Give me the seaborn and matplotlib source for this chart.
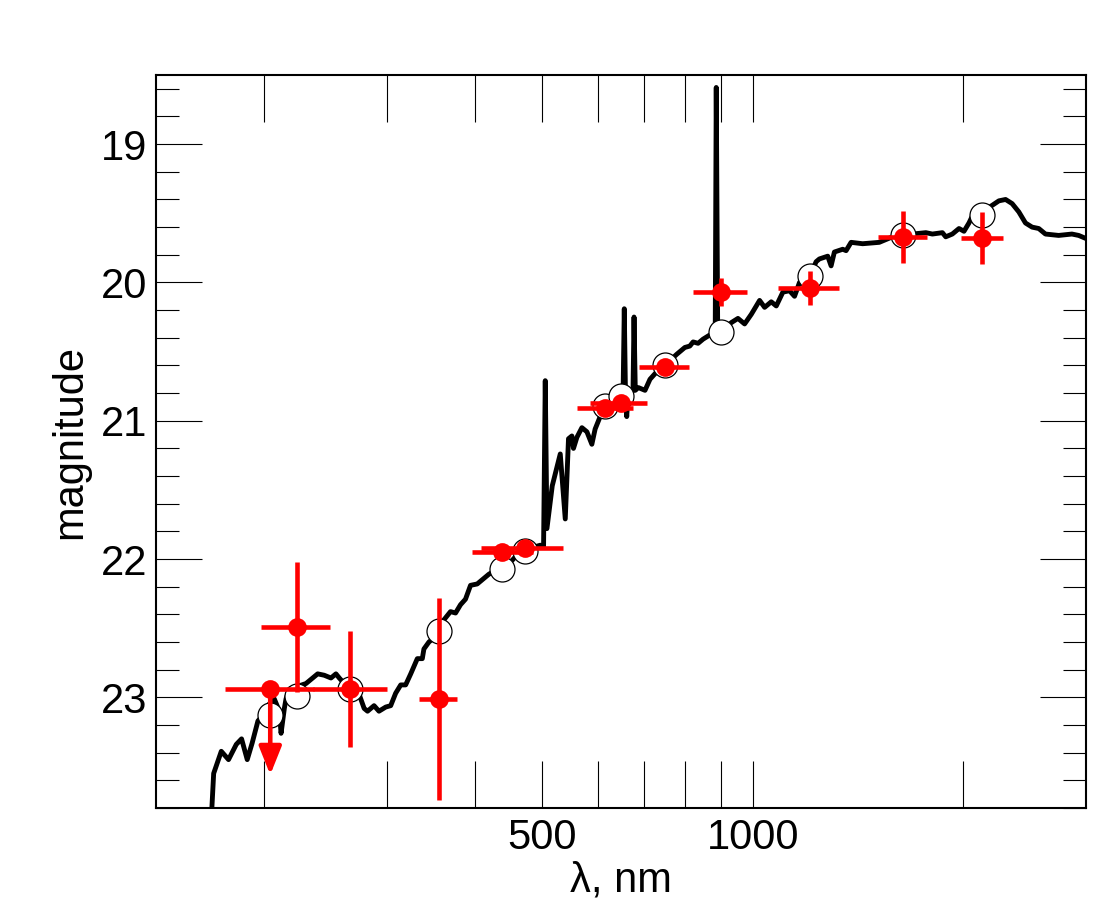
import numpy as np
import pandas as pd
import matplotlib
matplotlib.use("Agg")
import matplotlib.pyplot as plt
import seaborn as sns

# --- data: model spectrum (nm, mag) ---
spec_wave = [167.5, 169.3, 173.6, 177.8, 182.4, 185.6, 189.1, 192.2, 195.9, 200.1,
             203.2, 206.7, 210.2, 211.4, 213.7, 214.9, 217.3, 229.5, 232.0, 235.8,
             238.5, 243.7, 249.2, 253.3, 256.1, 260.3, 273.5, 278.0, 281.1, 287.2,
             291.9, 298.5, 303.4, 308.4, 313.6, 318.7, 324.1, 331.2, 336.7, 338.5,
             344.1, 349.8, 361.5, 369.5, 375.7, 381.9, 388.2, 394.7, 403.5, 419.2,
             452.6, 460.1, 480.7, 496.7, 502.1, 504.9, 507.7, 516.7, 530.5, 539.3,
             545.1, 551.2, 554.1, 560.4, 569.7, 579.2, 588.7, 595.1, 605.0, 618.5,
             632.0, 646.0, 652.4, 655.1, 657.8, 660.4, 663.2, 674.2, 676.5, 679.3,
             686.1, 701.4, 713.0, 724.8, 749.0, 778.4, 791.2, 799.8, 813.0, 821.9,
             835.5, 849.3, 868.2, 884.0, 887.0, 891.3, 902.3, 932.4, 952.8, 973.9,
             995.7, 1023.2, 1040.3, 1063.3, 1081.0, 1104.8, 1129.3, 1148.1, 1167.0, 1208.8,
             1232.7, 1246.2, 1280.8, 1295.1, 1309.2, 1345.6, 1360.6, 1383.3, 1436.9, 1517.8,
             1585.6, 1647.8, 1693.2, 1769.6, 1808.3, 1868.8, 1889.6, 1931.0, 1974.1, 2006.7,
             2039.9, 2062.5, 2131.2, 2190.8, 2251.2, 2301.5, 2351.8, 2404.2, 2457.4, 2511.7,
             2567.3, 2624.6, 2741.4, 2864.0, 2928.0, 3025.0]
spec_mag = [24.00, 23.55, 23.39, 23.45, 23.34, 23.30, 23.45, 23.33, 23.17, 23.12,
            23.05, 23.01, 23.10, 23.26, 23.08, 23.01, 22.94, 22.90, 22.88, 22.85,
            22.83, 22.84, 22.86, 22.83, 22.86, 22.90, 22.98, 23.08, 23.10, 23.06,
            23.10, 23.07, 23.06, 22.97, 22.91, 22.91, 22.83, 22.72, 22.72, 22.65,
            22.60, 22.57, 22.44, 22.38, 22.39, 22.33, 22.29, 22.19, 22.18, 22.11,
            22.01, 21.97, 21.92, 21.90, 21.91, 20.71, 21.78, 21.47, 21.24, 21.71,
            21.13, 21.11, 21.20, 21.12, 21.05, 21.08, 21.17, 21.06, 20.97, 20.90,
            20.85, 20.83, 20.83, 20.19, 20.84, 20.97, 20.81, 20.78, 20.25, 20.78,
            20.76, 20.78, 20.70, 20.66, 20.60, 20.52, 20.49, 20.47, 20.46, 20.43,
            20.44, 20.41, 20.38, 20.37, 18.59, 20.37, 20.35, 20.29, 20.26, 20.30,
            20.23, 20.13, 20.18, 20.14, 20.17, 20.07, 20.06, 20.10, 20.00, 19.95,
            19.85, 19.83, 19.81, 19.88, 19.78, 19.76, 19.77, 19.71, 19.72, 19.71,
            19.67, 19.66, 19.65, 19.64, 19.65, 19.64, 19.67, 19.65, 19.61, 19.63,
            19.57, 19.52, 19.51, 19.45, 19.41, 19.40, 19.43, 19.49, 19.57, 19.60,
            19.61, 19.65, 19.66, 19.65, 19.66, 19.69]

# --- photometry ---
band_wave = [204, 223, 265, 356, 438, 473, 615, 648, 749, 902, 1209, 1639, 2131]
band_lo = [176, 198, 235, 333, 397, 408, 561, 586, 688, 821, 1086, 1513, 1987]
band_hi = [236, 248, 300, 378, 485, 536, 674, 706, 810, 983, 1331, 1777, 2281]
obs_mag = [22.94, 22.49, 22.94, 23.01, 21.95, 21.92, 20.91, 20.87, 20.61, 20.07, 20.04, 19.67, 19.68]
obs_err = [0.0, 0.47, 0.42, 0.73, 0.05, 0.03, 0.03, 0.04, 0.03, 0.10, 0.125, 0.19, 0.19]
model_mag = [23.13, 22.99, 22.94, 22.52, 22.07, 21.94, 20.89, 20.82, 20.60, 20.36, 19.95, 19.66, 19.51]
limit_wave = 204
limit_mag = 22.94
limit_end = 23.56

x_ticks = [200, 300, 400, 500, 600, 700, 800, 900, 1000, 2000]
x_ticklabels = ['', '', '', '500', '', '', '', '', '1000', '']
y_ticks = [19, 20, 21, 22, 23]

sns.set_style("white")
plt.rcParams['font.family'] = ['Liberation Sans', 'DejaVu Sans']
plt.rcParams['text.color'] = 'black'
plt.rcParams['axes.labelcolor'] = 'black'
plt.rcParams['xtick.color'] = 'black'
plt.rcParams['ytick.color'] = 'black'

fig = plt.figure(figsize=(10.94, 9.09), dpi=100)
ax = fig.add_axes([0.1426, 0.1111, 0.8501, 0.8064])

spec = pd.DataFrame({'wave': spec_wave, 'mag': spec_mag})
sns.lineplot(data=spec, x='wave', y='mag', color='black', lw=3.5, sort=False,
             ax=ax, zorder=2)

phot = pd.DataFrame({'wave': band_wave, 'obs': obs_mag, 'model': model_mag})
sns.scatterplot(data=phot, x='wave', y='model', s=18**2, facecolor='white',
                edgecolor='black', linewidth=0.9, ax=ax, zorder=3)

xerr = [np.array(band_wave) - np.array(band_lo), np.array(band_hi) - np.array(band_wave)]
ax.errorbar(band_wave, obs_mag, yerr=obs_err, xerr=xerr, fmt='none',
            ecolor='red', elinewidth=3.3, capsize=0, zorder=4)
sns.scatterplot(data=phot, x='wave', y='obs', s=13.5**2, color='red',
                edgecolor='red', linewidth=0, ax=ax, zorder=5)

# upper limit arrow
ax.annotate('', xy=(limit_wave, limit_end), xytext=(limit_wave, limit_mag),
            arrowprops=dict(arrowstyle='-|>,head_length=0.85,head_width=0.34',
                            color='red', lw=3.3, shrinkA=0, shrinkB=0,
                            mutation_scale=20), zorder=4)

ax.set_xscale('log')
ax.set_xlim(140, 3000)
ax.set_ylim(23.8, 18.5)

ax.set_xticks(x_ticks)
ax.set_xticklabels(x_ticklabels)
ax.xaxis.set_minor_locator(matplotlib.ticker.NullLocator())
ax.set_yticks(y_ticks)
ax.set_yticks(np.arange(18.6, 23.81, 0.2), minor=True)

ax.tick_params(axis='both', which='both', direction='in', top=True, right=True,
               bottom=True, left=True, color='black', width=0.8, labelsize=30,
               labelcolor='black')
ax.tick_params(axis='x', which='major', length=33.5, pad=7)
ax.tick_params(axis='y', which='major', length=33, pad=6)
ax.tick_params(axis='y', which='minor', length=16.5)

for sp in ax.spines.values():
    sp.set_linewidth(1.5)
    sp.set_color('black')

ax.set_xlabel('λ, nm', fontsize=30, labelpad=2, color='black')
ax.set_ylabel('magnitude', fontsize=30, labelpad=8, color='black')

fig.savefig('out.png', dpi=100)
